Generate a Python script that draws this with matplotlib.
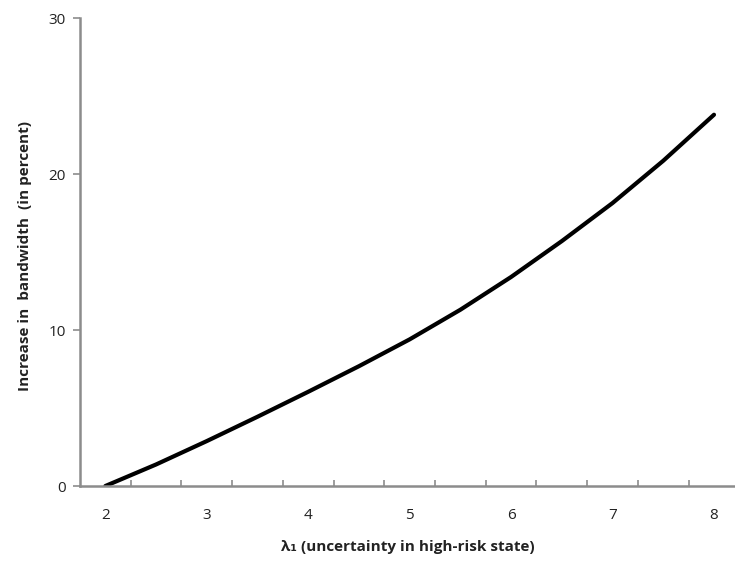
import matplotlib
matplotlib.use("Agg")
import matplotlib.pyplot as plt
from matplotlib.ticker import FixedLocator

lam = [2.0, 2.5, 3.0, 3.5, 4.0, 4.5, 5.0, 5.5, 6.0, 6.5, 7.0, 7.5, 8.0]
increase = [0.0, 1.38, 2.88, 4.44, 6.04, 7.68, 9.4, 11.3, 13.4, 15.7, 18.14, 20.85, 23.8]
x_tick_labels = ["2", "3", "4", "5", "6", "7", "8"]
y_ticks = [0, 10, 20, 30]

plt.rcParams['font.family'] = ['Open Sans', 'DejaVu Sans']

fig = plt.figure(figsize=(7.35, 5.61), dpi=100)
ax = fig.add_axes([80/735, 1-486/561, 1-80/735, (486-18)/561])

ax.plot(lam, increase, color='black', lw=3.0, solid_capstyle='round', solid_joinstyle='round')

ax.set_xlim(1.75, 8.207)
ax.set_ylim(0, 30)

spine_c = '#8c8c8c'
for s in ['top', 'right']:
    ax.spines[s].set_visible(False)
for s in ['left', 'bottom']:
    ax.spines[s].set_color(spine_c)
    ax.spines[s].set_linewidth(1.8)

ax.set_xticks([int(t) for t in x_tick_labels])
ax.set_xticklabels(x_tick_labels)
minor = [v + d for v in range(2, 8) for d in (0.25, 0.75)]
ax.xaxis.set_minor_locator(FixedLocator(minor))
ax.tick_params(axis='x', which='major', length=0, pad=16, labelsize=11, labelcolor='#222222')
ax.tick_params(axis='x', which='minor', direction='in', length=4, width=1.2, color=spine_c)

ax.set_yticks(y_ticks)
ax.tick_params(axis='y', which='major', direction='out', length=5, width=1.2, color=spine_c,
               pad=5, labelsize=11, labelcolor='#222222')

ax.set_xlabel('λ₁ (uncertainty in high-risk state)', fontsize=11, fontweight='bold',
              color='#222222', labelpad=12)
fig.text(25/735, 1-256/561, 'Increase in  bandwidth  (in percent)', rotation=90,
         ha='center', va='center', fontsize=11, fontweight='bold', color='#222222')

fig.savefig('out.png', dpi=100)
